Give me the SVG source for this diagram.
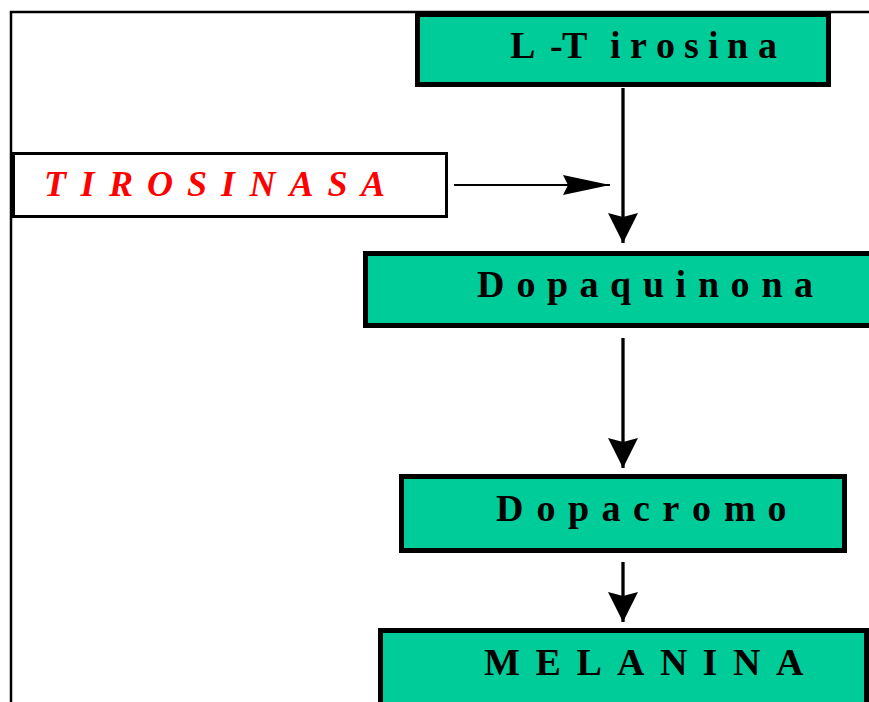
<svg xmlns="http://www.w3.org/2000/svg" width="869" height="702" viewBox="0 0 869 702">
  <style>
    .box { fill: #00CC99; stroke: #000; stroke-width: 5; }
    .lbl { font-family: "Liberation Serif", "Times New Roman", serif; font-weight: bold; font-size: 38px; fill: #000; }
    .enz { font-family: "Liberation Serif", "Times New Roman", serif; font-weight: bold; font-style: italic; font-size: 36px; fill: #FF0000; }
    .conn { stroke: #000; fill: none; }
  </style>
  <defs>
    <marker id="headV" viewBox="0 0 30 30" refX="30" refY="15" markerWidth="30" markerHeight="30" markerUnits="userSpaceOnUse" orient="auto">
      <path d="M0,0 L4,15 L0,30 L30,15 Z" fill="#000"/>
    </marker>
    <marker id="headH" viewBox="0 0 47 20" refX="47" refY="10" markerWidth="47" markerHeight="20" markerUnits="userSpaceOnUse" orient="auto">
      <path d="M0,0 L5,10 L0,20 L47,10 Z" fill="#000"/>
    </marker>
  </defs>
  <rect x="0" y="0" width="869" height="702" fill="#fff"/>
  <g id="frame">
    <path d="M11,702 L11,12 L869,12" fill="none" stroke="#000" stroke-width="2.5"/>
  </g>
  <g id="connectors">
    <line class="conn" x1="623" y1="88" x2="623" y2="243" stroke-width="3.3" marker-end="url(#headV)"/>
    <line class="conn" x1="623" y1="338" x2="623" y2="468" stroke-width="3.3" marker-end="url(#headV)"/>
    <line class="conn" x1="623" y1="562" x2="623" y2="622" stroke-width="3.3" marker-end="url(#headV)"/>
    <line class="conn" x1="454" y1="185" x2="610" y2="185" stroke-width="2.2" marker-end="url(#headH)"/>
  </g>
  <g id="tirosina">
    <rect class="box" x="417.5" y="14.5" width="411" height="70"/>
    <text class="lbl" y="58"><tspan x="510">L</tspan><tspan x="550">-</tspan><tspan x="562">T</tspan><tspan x="610">i</tspan><tspan x="630">r</tspan><tspan x="656">o</tspan><tspan x="684">s</tspan><tspan x="708">i</tspan><tspan x="727">n</tspan><tspan x="758">a</tspan></text>
  </g>
  <g id="tirosinasa">
    <rect x="13.5" y="153.5" width="433" height="63" fill="#fff" stroke="#000" stroke-width="3"/>
    <text class="enz" y="195.5"><tspan x="44">T</tspan><tspan x="80.5">I</tspan><tspan x="109">R</tspan><tspan x="147">O</tspan><tspan x="187">S</tspan><tspan x="221">I</tspan><tspan x="249.5">N</tspan><tspan x="289.5">A</tspan><tspan x="327.5">S</tspan><tspan x="361">A</tspan></text>
  </g>
  <g id="dopaquinona">
    <rect class="box" x="365.5" y="253.5" width="520" height="72"/>
    <text class="lbl" y="296.5"><tspan x="477">D</tspan><tspan x="516.5">o</tspan><tspan x="547">p</tspan><tspan x="579.5">a</tspan><tspan x="610">q</tspan><tspan x="643">u</tspan><tspan x="675.5">i</tspan><tspan x="698">n</tspan><tspan x="730.5">o</tspan><tspan x="761.5">n</tspan><tspan x="794">a</tspan></text>
  </g>
  <g id="dopacromo">
    <rect class="box" x="401.5" y="476.5" width="443" height="74"/>
    <text class="lbl" y="520.5"><tspan x="496">D</tspan><tspan x="536.5">o</tspan><tspan x="568">p</tspan><tspan x="601.5">a</tspan><tspan x="633">c</tspan><tspan x="662.5">r</tspan><tspan x="692">o</tspan><tspan x="724">m</tspan><tspan x="767.5">o</tspan></text>
  </g>
  <g id="melanina">
    <rect class="box" x="380.5" y="630.5" width="486" height="100"/>
    <text class="lbl" y="674.5"><tspan x="484">M</tspan><tspan x="535.5">E</tspan><tspan x="576.5">L</tspan><tspan x="617">A</tspan><tspan x="660">N</tspan><tspan x="702.5">I</tspan><tspan x="733">N</tspan><tspan x="776">A</tspan></text>
  </g>
</svg>
